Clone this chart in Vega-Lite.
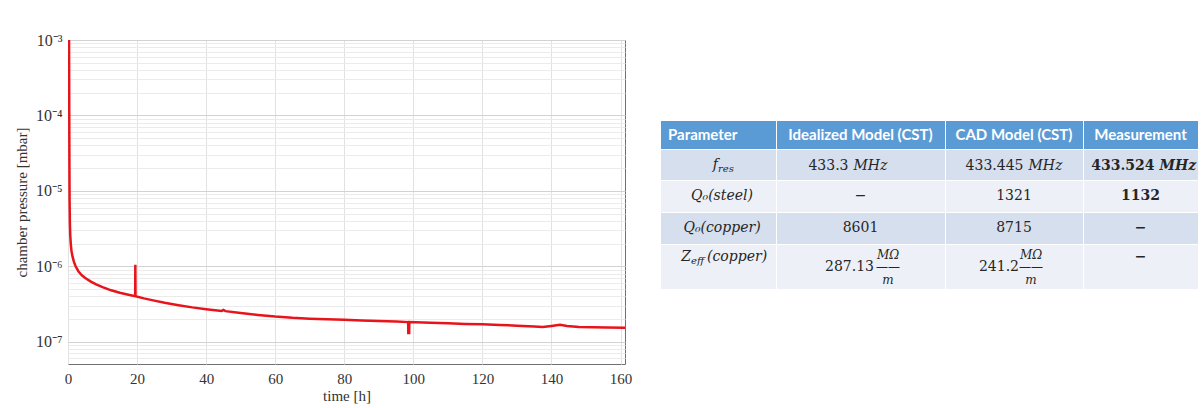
{
  "$schema": "https://vega.github.io/schema/vega-lite/v6.json",
  "background": "white",
  "padding": {"left": 13, "top": 31, "right": 0, "bottom": 0},
  "bounds": "flush",
  "spacing": 35,
  "config": {
    "axis": {"labelFont": "Liberation Serif", "titleFont": "Liberation Serif", "labelFontSize": 15, "titleFontSize": 15, "titleFontWeight": "normal", "labelColor": "#333333", "titleColor": "#333333"},
    "text": {"font": "DejaVu Serif", "fontSize": 14, "color": "#262626"}
  },
  "hconcat": [
    {
      "width": 557,
      "height": 324,
      "view": {"stroke": "#707070", "strokeWidth": 1},
      "data": {"values": [
        {"t": 0.30, "p": 1.0e-3}, {"t": 0.35, "p": 2.0e-4}, {"t": 0.40, "p": 3.0e-5}, {"t": 0.45, "p": 8.0e-6},
        {"t": 0.55, "p": 3.6e-6}, {"t": 0.65, "p": 2.6e-6}, {"t": 0.80, "p": 2.0e-6}, {"t": 1.0, "p": 1.6e-6},
        {"t": 1.3, "p": 1.35e-6}, {"t": 1.7, "p": 1.15e-6}, {"t": 2.2, "p": 1.0e-6}, {"t": 3.0, "p": 8.6e-7},
        {"t": 4.0, "p": 7.6e-7}, {"t": 5.0, "p": 7.0e-7}, {"t": 6.5, "p": 6.3e-7}, {"t": 8.0, "p": 5.8e-7},
        {"t": 10.0, "p": 5.3e-7}, {"t": 12.5, "p": 4.8e-7}, {"t": 15.0, "p": 4.45e-7}, {"t": 17.5, "p": 4.2e-7},
        {"t": 19.45, "p": 4.0e-7}, {"t": 19.5, "p": 1.05e-6}, {"t": 19.55, "p": 4.0e-7},
        {"t": 22.0, "p": 3.75e-7}, {"t": 25.0, "p": 3.5e-7}, {"t": 28.0, "p": 3.28e-7}, {"t": 32.0, "p": 3.05e-7},
        {"t": 36.0, "p": 2.85e-7}, {"t": 40.0, "p": 2.7e-7}, {"t": 44.5, "p": 2.56e-7}, {"t": 45.0, "p": 2.63e-7},
        {"t": 45.6, "p": 2.54e-7}, {"t": 50.0, "p": 2.4e-7}, {"t": 55.0, "p": 2.26e-7}, {"t": 60.0, "p": 2.15e-7},
        {"t": 65.0, "p": 2.07e-7}, {"t": 70.0, "p": 2.02e-7}, {"t": 75.0, "p": 1.98e-7}, {"t": 80.0, "p": 1.95e-7},
        {"t": 85.0, "p": 1.91e-7}, {"t": 90.0, "p": 1.88e-7}, {"t": 95.0, "p": 1.85e-7}, {"t": 98.5, "p": 1.82e-7},
        {"t": 98.55, "p": 1.3e-7}, {"t": 98.8, "p": 1.3e-7}, {"t": 98.85, "p": 1.82e-7},
        {"t": 105.0, "p": 1.78e-7}, {"t": 110.0, "p": 1.75e-7}, {"t": 115.0, "p": 1.72e-7}, {"t": 120.0, "p": 1.7e-7},
        {"t": 125.0, "p": 1.67e-7}, {"t": 130.0, "p": 1.63e-7}, {"t": 135.0, "p": 1.59e-7}, {"t": 137.5, "p": 1.57e-7},
        {"t": 140.0, "p": 1.62e-7}, {"t": 142.5, "p": 1.68e-7}, {"t": 144.5, "p": 1.62e-7}, {"t": 148.0, "p": 1.57e-7},
        {"t": 152.0, "p": 1.55e-7}, {"t": 156.0, "p": 1.54e-7}, {"t": 161.3, "p": 1.53e-7}
      ]},
      "mark": {"type": "line", "color": "#e8141b", "strokeWidth": 2.5, "clip": true},
      "encoding": {
        "x": {
          "field": "t", "type": "quantitative",
          "scale": {"domain": [0, 161.3], "nice": false, "zero": false},
          "axis": {"values": [0, 20, 40, 60, 80, 100, 120, 140, 160], "format": "d", "title": "time [h]", "grid": true, "gridColor": "#e2e2e2", "domain": false, "ticks": false, "labelPadding": 7, "titlePadding": 2, "labelFlush": false, "labelOverlap": false}
        },
        "y": {
          "field": "p", "type": "quantitative",
          "scale": {"type": "log", "domain": [5.06e-8, 1e-3], "nice": false},
          "axis": {
            "values": [6e-8, 7e-8, 8e-8, 9e-8, 1e-7, 2e-7, 3e-7, 4e-7, 5e-7, 6e-7, 7e-7, 8e-7, 9e-7, 1e-6, 2e-6, 3e-6, 4e-6, 5e-6, 6e-6, 7e-6, 8e-6, 9e-6, 1e-5, 2e-5, 3e-5, 4e-5, 5e-5, 6e-5, 7e-5, 8e-5, 9e-5, 1e-4, 2e-4, 3e-4, 4e-4, 5e-4, 6e-4, 7e-4, 8e-4, 9e-4, 1e-3],
            "labelExpr": "abs(log(datum.value)/LN10 - round(log(datum.value)/LN10)) < 0.01 ? '10⁻' + ['⁰','¹','²','³','⁴','⁵','⁶','⁷','⁸','⁹'][-round(log(datum.value)/LN10)] : ''",
            "labelFontSize": 16,
            "title": "chamber pressure [mbar]",
            "grid": true,
            "gridColor": {"condition": {"test": "abs(log(datum.value)/LN10 - round(log(datum.value)/LN10)) < 0.01", "value": "#d2d2d2"}, "value": "#ebebeb"},
            "domain": false, "ticks": false, "labelPadding": 6, "titlePadding": 6, "labelOverlap": false, "labelBound": false
          }
        }
      }
    },
    {
      "width": 538,
      "height": 324,
      "view": {"stroke": null},
      "data": {"values": [
        {"r": 0, "c": 0, "t": "Parameter"},
        {"r": 0, "c": 1, "t": "Idealized Model (CST)"},
        {"r": 0, "c": 2, "t": "CAD Model (CST)"},
        {"r": 0, "c": 3, "t": "Measurement"},
        {"r": 1, "c": 0, "t": "f", "s": "res"},
        {"r": 1, "c": 1, "t": "433.3", "u": "MHz"},
        {"r": 1, "c": 2, "t": "433.445", "u": "MHz"},
        {"r": 1, "c": 3, "t": "433.524", "u": "MHz"},
        {"r": 2, "c": 0, "t": "Q₀(steel)"},
        {"r": 2, "c": 1, "t": "−"},
        {"r": 2, "c": 2, "t": "1321"},
        {"r": 2, "c": 3, "t": "1132"},
        {"r": 3, "c": 0, "t": "Q₀(copper)"},
        {"r": 3, "c": 1, "t": "8601"},
        {"r": 3, "c": 2, "t": "8715"},
        {"r": 3, "c": 3, "t": "−"},
        {"r": 4, "c": 0, "t": "Z", "s": "eff", "tail": "(copper)"},
        {"r": 4, "c": 1, "t": "287.13", "fr": "MΩ\n——\nm"},
        {"r": 4, "c": 2, "t": "241.2", "fr": "MΩ\n——\nm"},
        {"r": 4, "c": 3, "t": "−"}
      ]},
      "encoding": {
        "x": {"field": "c", "type": "quantitative", "bin": {"step": 1, "extent": [0, 4]}, "scale": {"domain": [0, 1, 2, 3, 4], "range": [0, 116, 285, 423, 538], "nice": false, "zero": false}, "axis": null},
        "y": {"field": "r", "type": "quantitative", "bin": {"step": 1, "extent": [0, 5]}, "scale": {"domain": [0, 1, 2, 3, 4, 5], "range": [80, 109, 140, 172, 204, 249], "nice": false, "zero": false}, "axis": null}
      },
      "layer": [
        {
          "mark": {"type": "rect", "stroke": "white", "strokeWidth": 1, "binSpacing": 0},
          "encoding": {"color": {"field": "r", "type": "ordinal", "scale": {"domain": [0, 1, 2, 3, 4], "range": ["#5b9bd5", "#d6dfee", "#edf0f7", "#d6dfee", "#edf0f7"]}, "legend": null}}
        },
        {
          "transform": [{"filter": "datum.r == 0 && datum.c > 0"}],
          "mark": {"type": "text", "font": "Lato", "fontWeight": "bold", "fontSize": 15, "color": "white"},
          "encoding": {"text": {"field": "t"}}
        },
        {
          "transform": [{"filter": "datum.r == 0 && datum.c == 0"}],
          "mark": {"type": "text", "font": "Lato", "fontWeight": "bold", "fontSize": 15, "color": "white", "align": "left", "dx": -50},
          "encoding": {"text": {"field": "t"}}
        },
        {
          "transform": [{"filter": "(datum.r == 2 || datum.r == 3) && (datum.c == 1 || datum.c == 2)"}],
          "mark": {"type": "text"},
          "encoding": {"text": {"field": "t"}}
        },
        {
          "transform": [{"filter": "datum.c == 3 && (datum.r == 2 || datum.r == 3)"}],
          "mark": {"type": "text", "fontWeight": "bold"},
          "encoding": {"text": {"field": "t"}}
        },
        {
          "transform": [{"filter": "datum.c == 3 && datum.r == 4"}],
          "mark": {"type": "text", "fontWeight": "bold", "dy": -10},
          "encoding": {"text": {"field": "t"}}
        },
        {
          "transform": [{"filter": "datum.c == 0 && (datum.r == 2 || datum.r == 3)"}],
          "mark": {"type": "text", "fontStyle": "italic", "dx": 4},
          "encoding": {"text": {"field": "t"}}
        },
        {
          "transform": [{"filter": "datum.c == 0 && datum.r == 1"}],
          "mark": {"type": "text", "fontStyle": "italic", "align": "right", "dx": 0, "dy": 0},
          "encoding": {"text": {"field": "t"}}
        },
        {
          "transform": [{"filter": "datum.c == 0 && datum.r == 1"}],
          "mark": {"type": "text", "fontStyle": "italic", "fontSize": 10, "align": "left", "dx": 0, "dy": 4},
          "encoding": {"text": {"field": "s"}}
        },
        {
          "transform": [{"filter": "datum.c == 0 && datum.r == 4"}],
          "mark": {"type": "text", "fontStyle": "italic", "align": "right", "dx": -27, "dy": -10},
          "encoding": {"text": {"field": "t"}}
        },
        {
          "transform": [{"filter": "datum.c == 0 && datum.r == 4"}],
          "mark": {"type": "text", "fontStyle": "italic", "fontSize": 10, "align": "left", "dx": -27, "dy": -6},
          "encoding": {"text": {"field": "s"}}
        },
        {
          "transform": [{"filter": "datum.c == 0 && datum.r == 4"}],
          "mark": {"type": "text", "fontStyle": "italic", "align": "left", "dx": -11, "dy": -10},
          "encoding": {"text": {"field": "tail"}}
        },
        {
          "transform": [{"filter": "datum.r == 1 && datum.c == 1"}],
          "mark": {"type": "text", "align": "right", "dx": -12, "dy": 1},
          "encoding": {"text": {"field": "t"}}
        },
        {
          "transform": [{"filter": "datum.r == 1 && datum.c == 1"}],
          "mark": {"type": "text", "fontStyle": "italic", "align": "left", "dx": -7, "dy": 1},
          "encoding": {"text": {"field": "u"}}
        },
        {
          "transform": [{"filter": "datum.r == 1 && datum.c == 2"}],
          "mark": {"type": "text", "align": "right", "dx": 9.5, "dy": 1},
          "encoding": {"text": {"field": "t"}}
        },
        {
          "transform": [{"filter": "datum.r == 1 && datum.c == 2"}],
          "mark": {"type": "text", "fontStyle": "italic", "align": "left", "dx": 14.5, "dy": 1},
          "encoding": {"text": {"field": "u"}}
        },
        {
          "transform": [{"filter": "datum.r == 1 && datum.c == 3"}],
          "mark": {"type": "text", "fontWeight": "bold", "align": "right", "dx": 14, "dy": 1},
          "encoding": {"text": {"field": "t"}}
        },
        {
          "transform": [{"filter": "datum.r == 1 && datum.c == 3"}],
          "mark": {"type": "text", "fontWeight": "bold", "fontStyle": "italic", "align": "left", "dx": 19, "dy": 1},
          "encoding": {"text": {"field": "u"}}
        },
        {
          "transform": [{"filter": "datum.r == 4 && datum.c == 1"}],
          "mark": {"type": "text", "align": "right", "dx": 13.5},
          "encoding": {"text": {"field": "t"}}
        },
        {
          "transform": [{"filter": "datum.r == 4 && datum.c == 2"}],
          "mark": {"type": "text", "align": "right", "dx": 5},
          "encoding": {"text": {"field": "t"}}
        },
        {
          "transform": [{"filter": "datum.r == 4 && datum.c == 1"}],
          "mark": {"type": "text", "fontStyle": "italic", "fontSize": 12, "lineBreak": "\n", "lineHeight": 12.5, "dx": 27.5, "dy": -12},
          "encoding": {"text": {"field": "fr"}}
        },
        {
          "transform": [{"filter": "datum.r == 4 && datum.c == 2"}],
          "mark": {"type": "text", "fontStyle": "italic", "fontSize": 12, "lineBreak": "\n", "lineHeight": 12.5, "dx": 17, "dy": -12},
          "encoding": {"text": {"field": "fr"}}
        }
      ]
    }
  ]
}
